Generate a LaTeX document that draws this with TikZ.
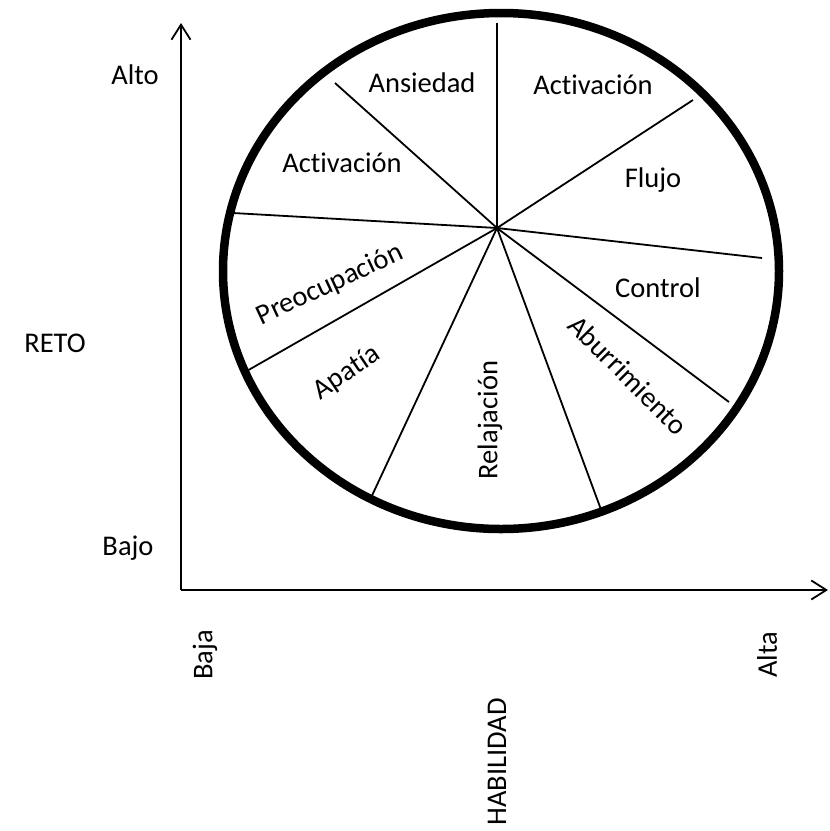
\documentclass[tikz,border=0pt]{standalone}
\usepackage{fontspec}
\setmainfont{Carlito}[Ligatures=NoCommon]
\usetikzlibrary{arrows.meta}
\begin{document}
\begin{tikzpicture}[x=1pt,y=-1pt,
  lbl/.style={font=\fontsize{28.5}{34}\selectfont, inner sep=0pt},
  axisline/.style={line width=1.8pt, -{Straight Barb[length=15pt,width=19pt]}},
  spoke/.style={line width=1.8pt},
  rim/.style={line width=8.5pt}]
\useasboundingbox (0,0) rectangle (830,831);

% axes
\coordinate (O) at (181,590);
\coordinate (ytop) at (181,23);
\coordinate (xend) at (828,590);
\draw[axisline] (O) -- (ytop);
\draw[axisline] (O) -- (xend);

% outer ring
\draw[rim] (501,271) ellipse [x radius=278, y radius=258];

% spokes from the hub
\coordinate (hub) at (497,228);
\coordinate (s1) at (497,23);
\coordinate (s2) at (335,83);
\coordinate (s3) at (233,213);
\coordinate (s4) at (693,100);
\coordinate (s5) at (762,258);
\coordinate (s6) at (729,402);
\coordinate (s7) at (603,515);
\coordinate (s8) at (369,502);
\coordinate (s9) at (245,372);
\foreach \e in {s1,s2,s3,s4,s5,s6,s7,s8,s9}
  \draw[spoke] (hub) -- (\e);

% sector names
\node[lbl] (ans) at (422,83) {Ansiedad};
\node[lbl] (actl) at (342,163) {Activación};
\node[lbl] (actr) at (593,85) {Activación};
\node[lbl] (flu) at (653,180) {Flujo};
\node[lbl] (con) at (658,288) {Control};
\node[lbl, rotate=-45] (abu) at (628,375) {Aburrimiento};
\node[lbl, rotate=90] (rel) at (490,420) {Relajación};
\node[lbl, rotate=34] (apa) at (347,373) {Apatía};
\node[lbl, rotate=25] (pre) at (330,285) {Preocupación};

% axis labels
\node[lbl] (alto) at (135,75) {Alto};
\node[lbl] (reto) at (55,343) {RETO};
\node[lbl] (bajo) at (128,548) {Bajo};
\node[lbl, rotate=90] (baja) at (205,655) {Baja};
\node[lbl, rotate=90] (alta) at (767,655) {Alta};
\node[lbl, rotate=90] (hab) at (497,762) {HABILIDAD};
\end{tikzpicture}
\end{document}
